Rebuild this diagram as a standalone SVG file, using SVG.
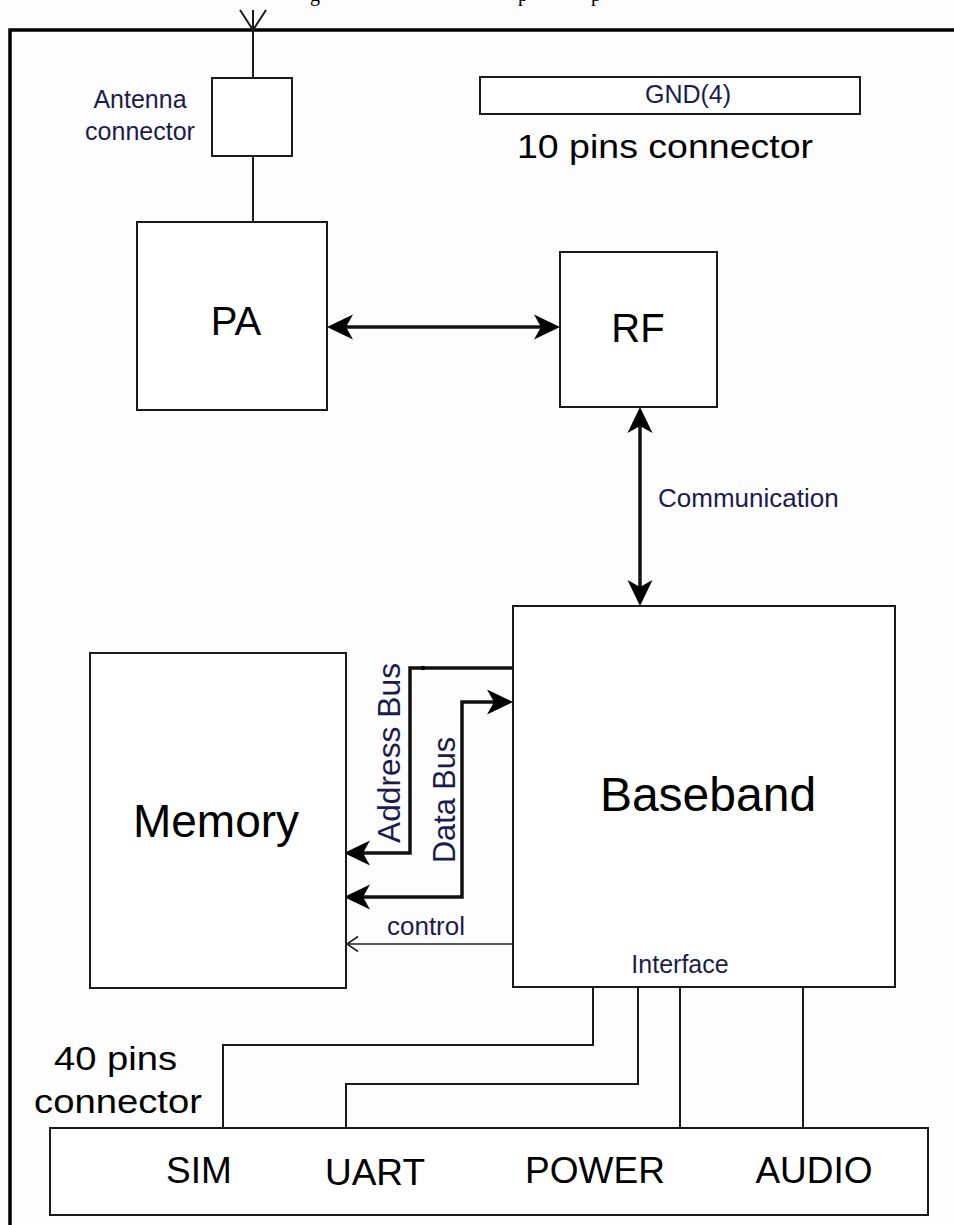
<svg xmlns="http://www.w3.org/2000/svg" width="954" height="1225" viewBox="0 0 954 1225">
<style>
.bg{fill:#fdfdfd}
.box{fill:#ffffff;stroke:#1a1a1a;stroke-width:2}
.frame{fill:none;stroke:#000;stroke-width:3.5}
.thin{fill:none;stroke:#1a1a1a;stroke-width:2}
.bus{fill:none;stroke:#111;stroke-width:3.5}
.ctl{fill:none;stroke:#222;stroke-width:1.6}
.t{font-family:"Liberation Sans",Arial,sans-serif;fill:#000}
.lbl{font-family:"Liberation Sans",Arial,sans-serif;fill:#1c1c4c}
.cap{font-family:"Liberation Serif","Times New Roman",serif;fill:#000}
</style>
<defs>
<marker id="barb" viewBox="0 -13 26 26" refX="18" refY="0" markerWidth="26" markerHeight="26" markerUnits="userSpaceOnUse" orient="auto-start-reverse">
<path d="M26,0 L0,-12.5 L7,0 L0,12.5 Z" fill="#000"/>
</marker>
<marker id="open" viewBox="-13 -9 15 18" refX="0" refY="0" markerWidth="15" markerHeight="18" markerUnits="userSpaceOnUse" orient="auto">
<path d="M-11,-7.5 L0,0 L-11,7.5" fill="none" stroke="#222" stroke-width="1.6"/>
</marker>
</defs>
<rect class="bg" x="0" y="0" width="954" height="1225"/>
<text class="cap" font-size="20" x="310 518 591" y="0.5">gpp</text>
<g id="frame">
<path class="frame" d="M10,1225 V30 H954"/>
</g>
<g id="antenna">
<path class="thin" d="M240,10 L253,30 L266,10 M253,10 V30"/>
</g>
<g id="connectors">
<path class="thin" d="M253,30 V78 M253,156 V222"/>
<path class="bus" d="M335,327 H552" marker-start="url(#barb)" marker-end="url(#barb)"/>
<path class="bus" d="M640,415 V598" marker-start="url(#barb)" marker-end="url(#barb)"/>
<path class="bus" d="M513,668 H410 V853 H352" marker-end="url(#barb)"/>
<circle cx="423" cy="668" r="2.2" fill="#000"/>
<path class="bus" d="M352,897 H462 V702 H505" marker-start="url(#barb)" marker-end="url(#barb)"/>
<path class="ctl" d="M513,944 H347" marker-end="url(#open)"/>
<path class="thin" d="M593,987 V1045 H223 V1128"/>
<path class="thin" d="M638,987 V1084 H346 V1128"/>
<path class="thin" d="M680,987 V1128"/>
<path class="thin" d="M803,987 V1128"/>
</g>
<g id="antenna-connector">
<rect class="box" x="212" y="78" width="80" height="78"/>
<text class="lbl" font-size="25" x="140" y="108" text-anchor="middle">Antenna</text>
<text class="lbl" font-size="25" x="140" y="140" text-anchor="middle">connector</text>
</g>
<g id="gnd-connector">
<rect class="box" x="480" y="77" width="380" height="37"/>
<text class="lbl" font-size="25" x="688" y="103" text-anchor="middle">GND(4)</text>
<text class="t" font-size="33" x="517" y="158" textLength="296" lengthAdjust="spacingAndGlyphs">10 pins connector</text>
</g>
<g id="pa">
<rect class="box" x="137" y="222" width="190" height="188"/>
<text class="t" font-size="40" x="236" y="335" text-anchor="middle">PA</text>
</g>
<g id="rf">
<rect class="box" x="560" y="252" width="157" height="155"/>
<text class="t" font-size="40" x="638" y="342" text-anchor="middle">RF</text>
</g>
<g id="communication-label">
<text class="lbl" font-size="26" x="658" y="507">Communication</text>
</g>
<g id="baseband">
<rect class="box" x="513" y="606" width="382" height="381"/>
<text class="t" font-size="48" x="708" y="811" text-anchor="middle">Baseband</text>
<text class="lbl" font-size="25" x="680" y="973" text-anchor="middle">Interface</text>
</g>
<g id="memory">
<rect class="box" x="90" y="653" width="256" height="335"/>
<text class="t" font-size="46" x="216" y="837" text-anchor="middle">Memory</text>
</g>
<g id="bus-labels">
<text class="lbl" font-size="32" transform="translate(400,843) rotate(-90)" textLength="180" lengthAdjust="spacingAndGlyphs">Address Bus</text>
<text class="lbl" font-size="32" transform="translate(455,863) rotate(-90)" textLength="126" lengthAdjust="spacingAndGlyphs">Data Bus</text>
<text class="lbl" font-size="26" x="426" y="935" text-anchor="middle">control</text>
</g>
<g id="pins40">
<text class="t" font-size="34" x="54" y="1070" textLength="123" lengthAdjust="spacingAndGlyphs">40 pins</text>
<text class="t" font-size="34" x="34" y="1113" textLength="168" lengthAdjust="spacingAndGlyphs">connector</text>
<rect class="box" x="50" y="1128" width="878" height="87"/>
<text class="t" font-size="37" x="199" y="1183" text-anchor="middle">SIM</text>
<text class="t" font-size="37" x="375" y="1185" text-anchor="middle">UART</text>
<text class="t" font-size="37" x="595" y="1183" text-anchor="middle">POWER</text>
<text class="t" font-size="37" x="814" y="1183" text-anchor="middle">AUDIO</text>
</g>
</svg>
